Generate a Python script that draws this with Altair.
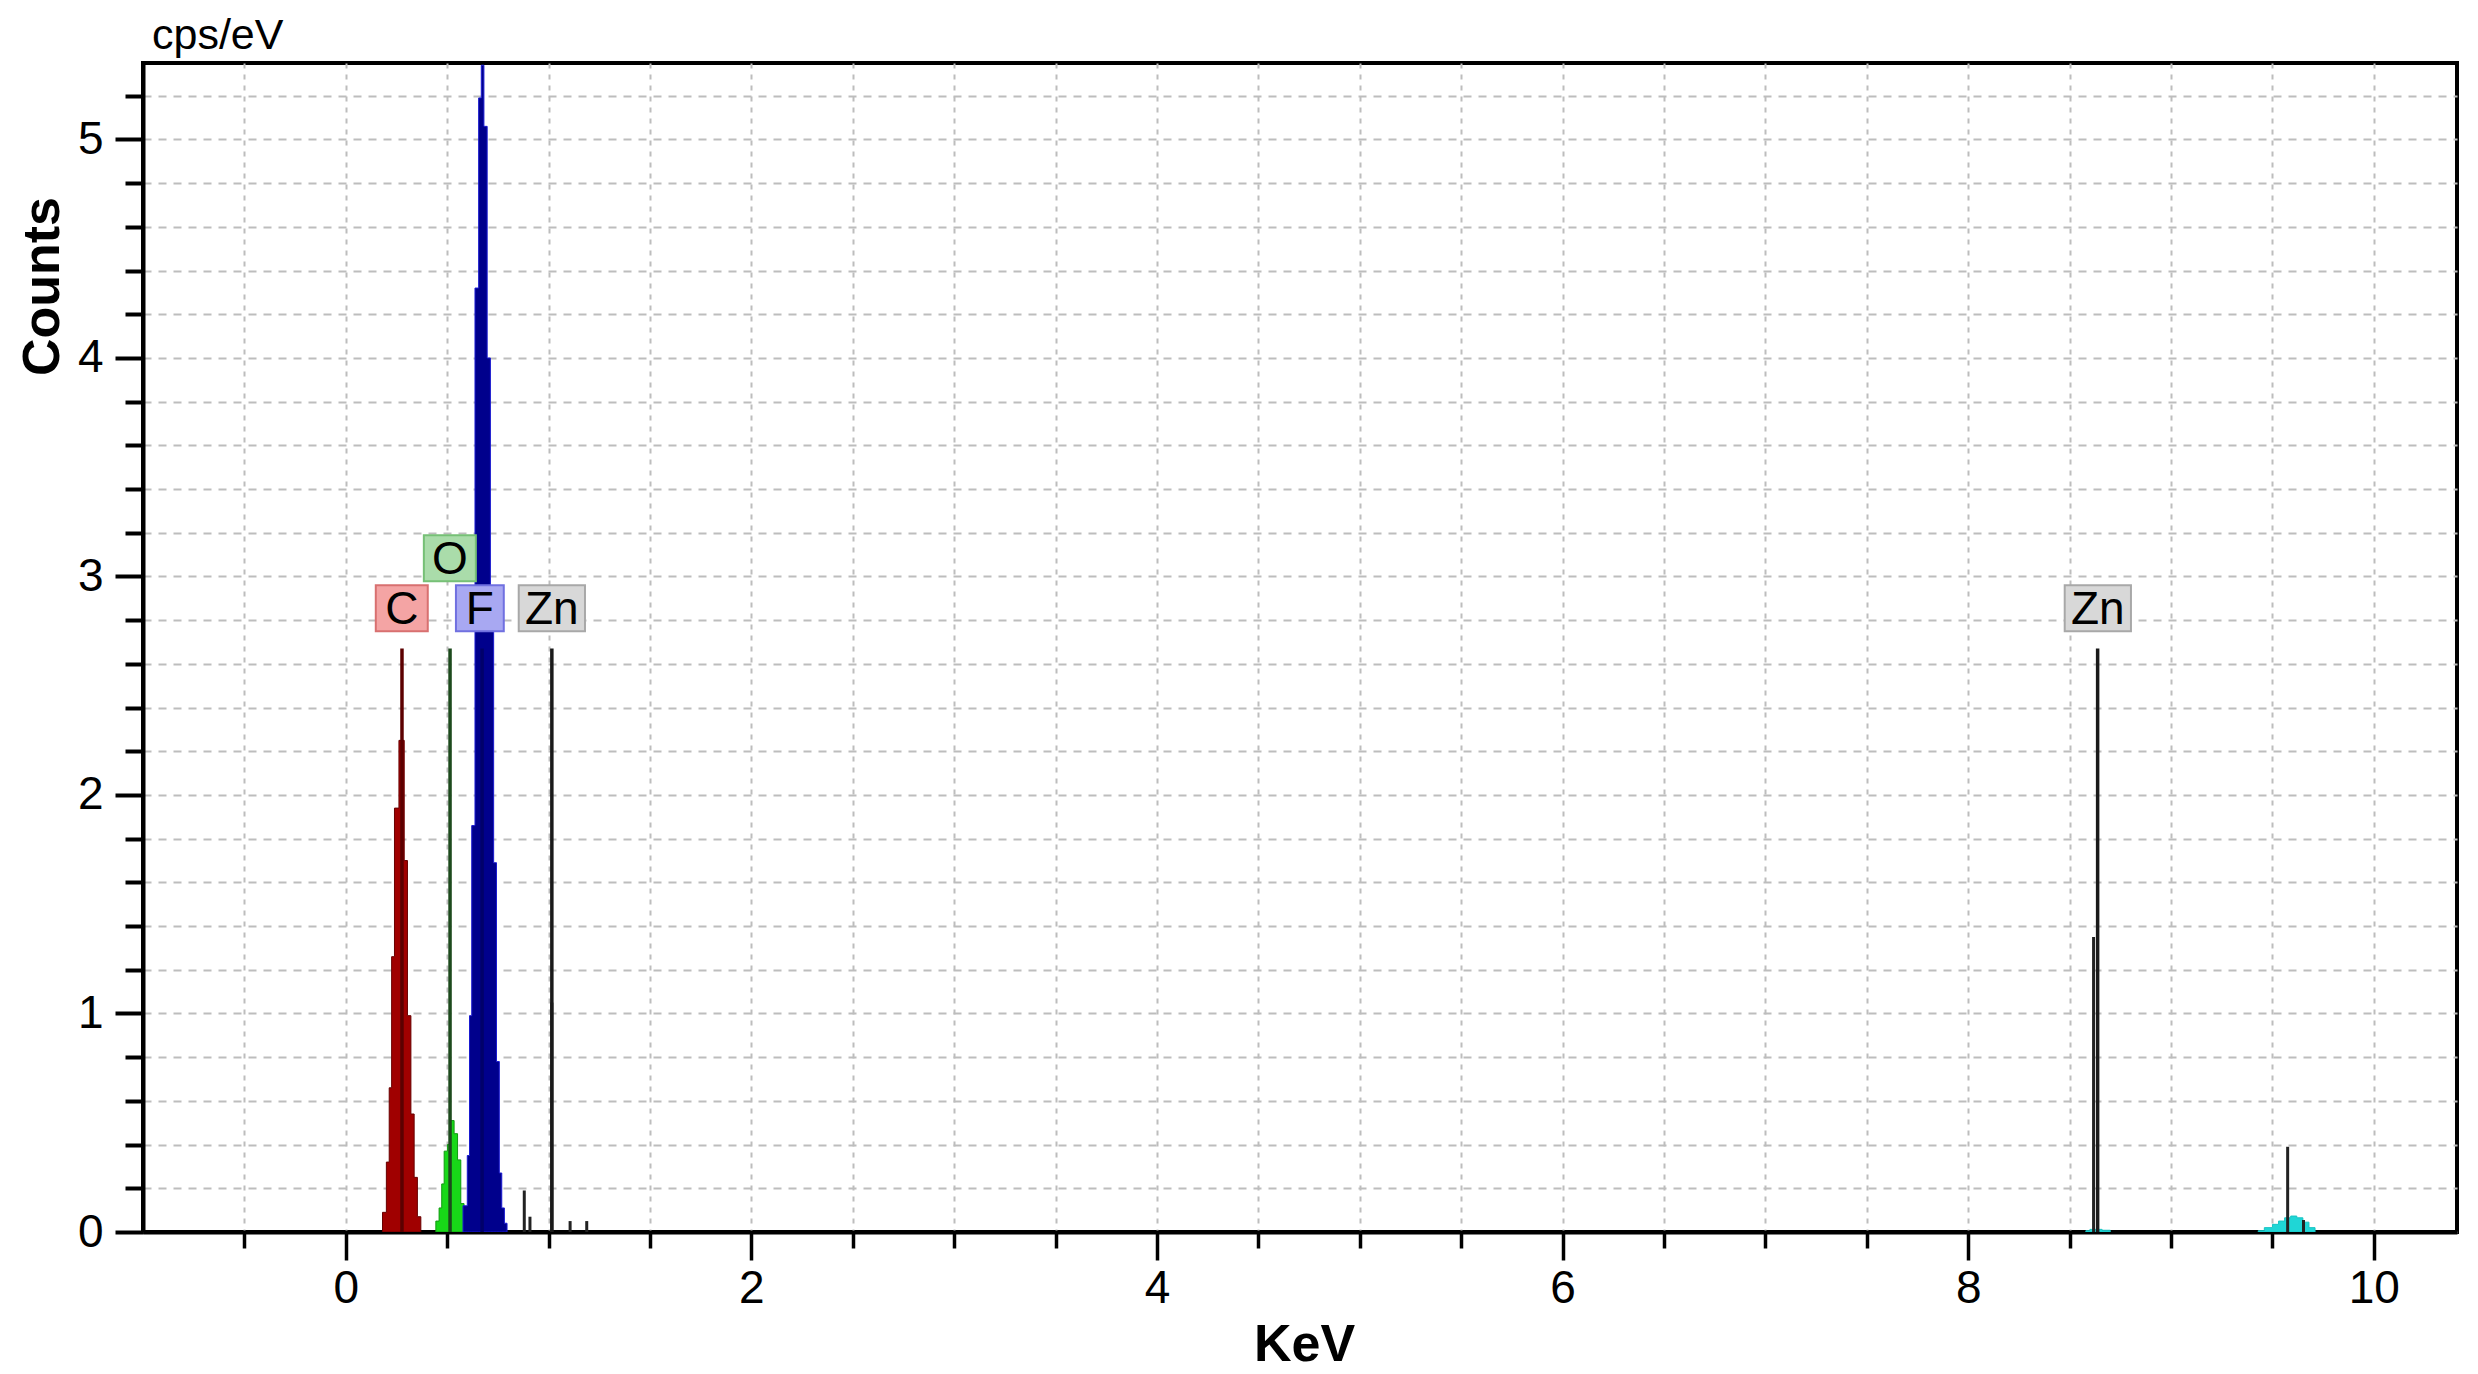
import altair as alt
import pandas as pd

# EDS spectrum, step-histogram fits per element (keV, cps/eV)
c_kev = [0.181, 0.200, 0.214, 0.226, 0.240, 0.262, 0.288, 0.304, 0.321, 0.337, 0.353, 0.370]
c_cps = [0.09, 0.32, 0.66, 1.26, 1.94, 2.25, 1.70, 0.99, 0.54, 0.25, 0.07, 0.0]

o_kev = [0.444, 0.460, 0.473, 0.485, 0.501, 0.514, 0.534, 0.551, 0.567, 0.583, 0.600]
o_cps = [0.05, 0.11, 0.22, 0.37, 0.40, 0.51, 0.45, 0.33, 0.13, 0.05, 0.0]

f_kev = [0.578, 0.599, 0.610, 0.621, 0.637, 0.655, 0.668, 0.681, 0.697, 0.713,
         0.729, 0.743, 0.757, 0.769, 0.782, 0.795]
f_cps = [0.12, 0.35, 0.99, 1.86, 4.32, 5.19, 5.34, 5.06, 4.00, 2.90,
         1.69, 0.78, 0.27, 0.11, 0.04, 0.0]

zn_ka_kev = [8.58, 8.60, 8.66, 8.70]
zn_ka_cps = [0.006, 0.012, 0.008, 0.0]
zn_kb_kev = [9.43, 9.46, 9.50, 9.53, 9.56, 9.59, 9.62, 9.65, 9.68, 9.71]
zn_kb_cps = [0.006, 0.02, 0.035, 0.05, 0.065, 0.073, 0.065, 0.045, 0.02, 0.0]

# raw spectrum spikes
spike_kev = [0.880, 0.908, 1.016, 1.106, 1.188, 8.618, 9.575, 9.653]
spike_cps = [0.19, 0.07, 1.05, 0.05, 0.05, 1.35, 0.39, 0.055]

# element line markers + labels
mark_el = ['C', 'O', 'F', 'Zn', 'Zn']
mark_kev = [0.277, 0.514, 0.672, 1.016, 8.638]
mark_cps = [2.67, 2.67, 2.67, 2.67, 2.67]
label_kev = [0.276, 0.513, 0.661, 1.016, 8.639]
label_cps = [2.855, 3.083, 2.855, 2.855, 2.855]

elements = ['C', 'O', 'F', 'Zn']

markers = pd.DataFrame({'el': mark_el, 'kev': mark_kev, 'cps': mark_cps})
labels = pd.DataFrame({'el': mark_el, 'kev': label_kev, 'cps': label_cps})
spikes = pd.DataFrame({'kev': spike_kev, 'cps': spike_cps})

FONT = 'Liberation Sans'
is_int = "abs(datum.value - round(datum.value)) < 0.001"

x_axis = alt.Axis(
    values=[v / 2 for v in range(-1, 21)],
    labelExpr="datum.value % 2 == 0 ? format(datum.value, 'd') : ''",
    tickSize={"condition": {"test": "datum.value % 2 == 0", "value": 28}, "value": 16},
    tickWidth=3.5, tickColor='black',
    domainColor='black', domainWidth=4,
    grid=True, gridColor='#bdbdbd', gridDash=[5, 6], gridWidth=2,
    labelFont=FONT, labelFontSize=46, labelColor='black', labelPadding=6,
    labelFlush=False, labelOverlap=False,
    title='KeV', titleFont=FONT, titleFontSize=52, titleFontWeight='bold', titleColor='black',
    titleX=1161, titleY=128, titleBaseline='alphabetic', titleAlign='center',
)
y_axis = alt.Axis(
    values=[v / 5 for v in range(0, 27)],
    labelExpr=is_int + " ? format(datum.value, 'd') : ''",
    tickSize={"condition": {"test": is_int, "value": 28}, "value": 18},
    tickWidth=4, tickColor='black',
    domainColor='black', domainWidth=4,
    grid=True, gridColor='#bdbdbd', gridDash=[8, 7], gridWidth=2,
    labelFont=FONT, labelFontSize=46, labelColor='black', labelPadding=12,
    labelFlush=False, labelOverlap=False,
    title='Counts', titleFont=FONT, titleFontSize=52, titleFontWeight='bold', titleColor='black',
    titleAngle=270, titleX=-101, titleY=223, titleAlign='center', titleBaseline='middle',
)

xs = alt.Scale(domain=[-1, 10.41], nice=False, zero=False)
ys = alt.Scale(domain=[0, 5.35], nice=False)

base_x = alt.X('kev:Q', scale=xs, axis=x_axis)
base_y = alt.Y('cps:Q', scale=ys, axis=y_axis, stack=None)

fills = [(zn_ka_kev, zn_ka_cps, '#1fd6d6', '#17c4c4'),
         (zn_kb_kev, zn_kb_cps, '#1fd6d6', '#17c4c4'),
         (c_kev, c_cps, '#a00000', '#680000'),
         (o_kev, o_cps, '#18d818', '#109a10'),
         (f_kev, f_cps, '#00008c', '#1a1ad0')]

layers = []
for kx, ky, col, edge in fills:
    df = pd.DataFrame({'kev': kx, 'cps': ky})
    layers.append(
        alt.Chart(df).mark_area(interpolate='step-after', color=col, stroke=edge,
                                strokeWidth=1, opacity=1, clip=True)
        .encode(x=base_x, y=base_y)
    )

layers.append(
    alt.Chart(spikes).mark_rule(strokeWidth=3, color='#222222').encode(
        x=alt.X('kev:Q', scale=xs), y=alt.Y('cps:Q', scale=ys), y2=alt.datum(0)
    )
)

layers.append(
    alt.Chart(markers).mark_rule(strokeWidth=3.5).encode(
        x=alt.X('kev:Q', scale=xs), y=alt.Y('cps:Q', scale=ys), y2=alt.datum(0),
        color=alt.Color('el:N', scale=alt.Scale(domain=elements,
                        range=['#5c0000', '#1d4a1d', '#00006a', '#1a1a1a']), legend=None)
    )
)

box_paths = ['M-1.13,-1L1.13,-1L1.13,1L-1.13,1Z',
             'M-1.13,-1L1.13,-1L1.13,1L-1.13,1Z',
             'M-1.04,-1L1.04,-1L1.04,1L-1.04,1Z',
             'M-1.44,-1L1.44,-1L1.44,1L-1.44,1Z']

layers.append(
    alt.Chart(labels).mark_point(filled=True, opacity=1, size=2116, strokeWidth=2).encode(
        x=alt.X('kev:Q', scale=xs), y=alt.Y('cps:Q', scale=ys),
        shape=alt.Shape('el:N', scale=alt.Scale(domain=elements, range=box_paths), legend=None),
        fill=alt.Fill('el:N', scale=alt.Scale(domain=elements,
                      range=['#f4a4a4', '#aadcaa', '#a8a8f2', '#d8d8d8']), legend=None),
        stroke=alt.Stroke('el:N', scale=alt.Scale(domain=elements,
                          range=['#d87070', '#76c076', '#7070e0', '#a8a8a8']), legend=None),
    )
)

layers.append(
    alt.Chart(labels).mark_text(font=FONT, fontSize=46, color='black',
                                align='center', baseline='middle', dy=2).encode(
        x=alt.X('kev:Q', scale=xs), y=alt.Y('cps:Q', scale=ys), text='el:N'
    )
)

chart = alt.layer(*layers).properties(
    width=2314, height=1169,
    autosize=alt.AutoSizeParams(type='none'),
    padding={'left': 135, 'top': 55, 'right': 13, 'bottom': 142},
    title=alt.TitleParams('cps/eV', anchor='start', frame='group', font=FONT, fontSize=43,
                          fontWeight='normal', color='black', dx=9, dy=39, offset=10,
                          baseline='alphabetic'),
).configure_view(stroke='black', strokeWidth=4)

chart.save("out.html", embed_options={"renderer": "svg", "actions": False})
